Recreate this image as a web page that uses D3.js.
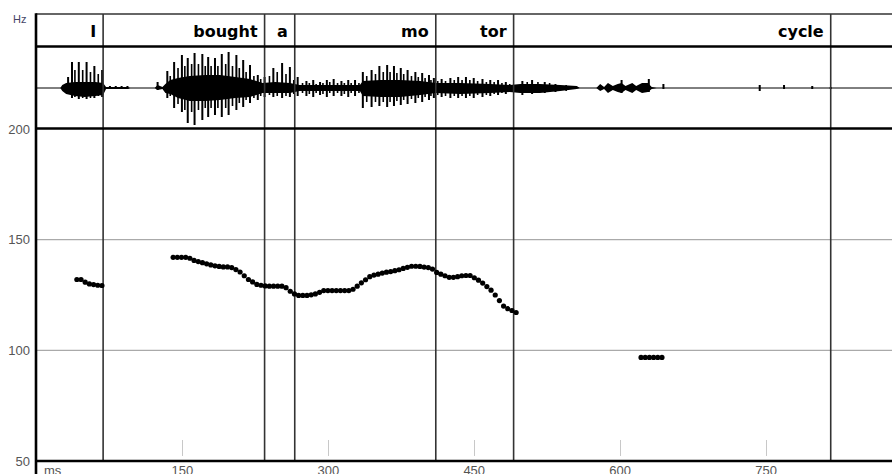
<!DOCTYPE html>
<html>
<head>
<meta charset="utf-8">
<script src="https://cdn.jsdelivr.net/npm/d3@7"></script>
<style>
  body { margin: 0; background: #fff; }
  svg { display: block; }
</style>
</head>
<body>
<div class="wrapper"></div>
<script>
// word tier: labels and interval end times (ms)
var words = ["I", "bought", "a", "mo", "tor", "cycle", ""];
var wordEnds = [69, 235, 266, 411, 491, 817, 880];

var hzTicks = [50, 100, 150, 200];
var hzGrid = [100, 150];
var msTicks = [150, 300, 450, 600, 750];

// pitch track, one dot per analysis frame
var pitchStepMs = 4.3;
var pitchStartMs = [42, 141, 622];
var pitchHz1 = [132, 132, 130.8, 130, 129.7, 129.4, 129.3];
var pitchHz2 = [142.0, 142.0, 142.0, 142.0, 141.6, 140.6, 140.1, 139.6, 139.1, 138.6,
  138.2, 137.9, 137.7, 137.7, 137.4, 136.5, 135.4, 133.7, 132.0, 130.9,
  129.8, 129.4, 129.1, 129.0, 129.0, 129.0, 129.0, 128.3, 126.7, 125.5,
  124.8, 124.8, 124.8, 125.1, 125.5, 126.2, 127.0, 127.0, 127.0, 127.0,
  127.0, 127.0, 127.0, 127.6, 129.0, 130.5, 131.9, 133.3, 134.0, 134.4,
  134.9, 135.3, 135.6, 136.0, 136.4, 137.0, 137.5, 138.0, 138.0, 137.9,
  137.6, 137.4, 136.7, 135.2, 134.4, 133.7, 133.0, 133.0, 133.3, 133.7,
  133.8, 133.8, 132.8, 131.7, 130.4, 128.8, 127.2, 125.0, 122.5, 120.0,
  118.8, 118.0, 117.1];
var pitchHz3 = [96.8, 96.8, 96.8, 96.8, 96.8, 96.8];

// waveform envelope (ms, amplitude above / below zero)
var envMs = [25, 27, 31, 40, 50, 61, 69, 72, 94, 97, 122, 125, 130, 133, 138, 146, 158, 174, 189, 205,
  220, 233, 246, 261, 271, 302, 333, 336, 354, 374, 395, 411, 436, 467, 487, 498, 518, 539, 556, 559,
  576, 580, 584, 588, 593, 598, 602, 606, 613, 617, 623, 629, 633, 638];
var envUp = [0, 3, 5, 6, 6, 6, 5, 1, 1, 0, 0, 3, 1, 4, 8, 10, 12, 13, 13, 11,
  9, 5, 6, 5, 3, 3, 3, 7, 8, 8, 7, 5, 5, 4, 3, 4, 4, 3, 2, 0,
  0, 4, 1, 5, 2, 4, 5, 2, 5, 2, 5, 5, 1, 0];
var envDown = [0, 3, 6, 8, 9, 8, 7, 1, 1, 0, 0, 2, 1, 5, 6, 10, 13, 13, 12, 10,
  9, 5, 5, 5, 3, 3, 3, 8, 9, 9, 7, 5, 6, 5, 4, 5, 5, 3, 1, 0,
  0, 3, 1, 5, 2, 4, 5, 2, 5, 2, 5, 4, 1, 0];

// glottal pulse peaks (ms, peak above / below zero)
var pulseMs = [33, 37, 44, 52, 60, 68, 76, 82, 88, 94, 125, 135, 142, 150, 156, 163, 171, 177, 184, 191,
  198, 206, 213, 220, 228, 235, 244, 253, 261, 269, 278, 285, 292, 299, 306, 314, 321, 328, 336, 345,
  353, 361, 368, 375, 382, 390, 397, 404, 409, 417, 426, 434, 442, 450, 459, 467, 475, 483, 500, 510,
  523, 534, 602, 630, 645, 744, 769, 798, 817];
var pulseUp = [11, 26, 26, 26, 22, 18, 2, 2, 2, 2, 6, 17, 26, 33, 30, 35, 34, 31, 30, 34,
  36, 33, 28, 23, 13, 11, 20, 25, 21, 11, 7, 8, 6, 8, 9, 7, 8, 8, 16, 18,
  22, 23, 22, 20, 18, 16, 15, 13, 10, 9, 10, 11, 11, 10, 9, 8, 8, 6, 7, 8,
  6, 4, 8, 9, 4, 3, 3, 2, 1];
var pulseDown = [6, 10, 11, 11, 10, 9, 1, 1, 1, 1, 2, 10, 20, 24, 35, 37, 32, 29, 27, 29,
  27, 22, 19, 15, 12, 9, 9, 10, 9, 8, 8, 9, 7, 9, 8, 8, 9, 8, 20, 19,
  18, 19, 18, 17, 16, 15, 14, 12, 10, 9, 10, 10, 10, 10, 9, 8, 7, 6, 7, 6,
  5, 4, 5, 4, 1, 3, 1, 1, 1];

// smaller peaks between the pulses
var rippleMs = [40, 48, 56, 64, 138, 146, 153, 160, 167, 174, 180, 187, 195, 202, 209, 216, 224, 231, 240, 248,
  257, 265, 274, 281, 288, 295, 302, 310, 317, 324, 332, 340, 349, 357, 364, 371, 378, 386, 393, 400,
  406, 413, 421, 430, 438, 446, 454, 463, 471, 479, 487, 505, 516, 528, 545];
var rippleUp = [18, 18, 16, 14, 12, 20, 22, 24, 24, 22, 22, 22, 24, 22, 20, 16, 12, 9, 12, 16,
  14, 8, 5, 5, 4, 5, 6, 5, 5, 5, 5, 12, 14, 16, 16, 15, 14, 12, 11, 10,
  8, 7, 7, 8, 8, 8, 7, 6, 6, 5, 4, 6, 6, 5, 3];
var rippleDown = [9, 10, 10, 8, 8, 16, 22, 24, 22, 20, 20, 20, 20, 18, 15, 12, 10, 8, 7, 8,
  8, 6, 5, 6, 5, 6, 5, 5, 6, 5, 5, 14, 14, 14, 14, 13, 12, 11, 10, 9,
  8, 7, 8, 8, 8, 8, 7, 7, 6, 5, 4, 5, 5, 4, 3];

var width = 892, height = 474;
var left = 36,
  tierTop = 14,
  tierBottom = 46.5,
  waveBottom = 128.5,
  axisY = 461;

var svg = d3.select(".wrapper").append("svg")
  .attr("width", width)
  .attr("height", height);

svg.append("rect").attr("width", width).attr("height", height).attr("fill", "#fff");

var x = d3.scaleLinear().domain([0, 880]).range([left, width]);
var y = d3.scaleLinear().domain([50, 200]).range([axisY, 129]);
var amp = d3.scaleLinear().domain([-40, 40]).range([128, 48]);

// grid lines
svg.append("g")
  .selectAll("line")
  .data(hzGrid)
  .enter().append("line")
    .attr("x1", left + 1).attr("x2", width)
    .attr("y1", function(d) { return y(d); })
    .attr("y2", function(d) { return y(d); })
    .attr("stroke", "#aaa")
    .attr("stroke-width", 1.2);

// faint time ticks above the axis
svg.append("g")
  .selectAll("line")
  .data(msTicks)
  .enter().append("line")
    .attr("x1", function(d) { return Math.round(x(d)) + 0.5; })
    .attr("x2", function(d) { return Math.round(x(d)) + 0.5; })
    .attr("y1", 440).attr("y2", 456)
    .attr("stroke", "#c8c8c8");

// waveform
svg.append("line")
  .attr("x1", left).attr("x2", width)
  .attr("y1", amp(0)).attr("y2", amp(0))
  .attr("stroke", "#000");

var env = envMs.map(function(t, i) { return {t: t, up: envUp[i], down: envDown[i]}; });
svg.append("path")
  .datum(env)
  .attr("fill", "#000")
  .attr("d", d3.area()
    .x(function(d) { return x(d.t); })
    .y0(function(d) { return amp(-d.down); })
    .y1(function(d) { return amp(d.up); }));

function spikes(times, ups, downs, w) {
  svg.append("g")
    .selectAll("rect")
    .data(times)
    .enter().append("rect")
      .attr("x", function(d) { return x(d) - w / 2; })
      .attr("width", w)
      .attr("y", function(d, i) { return amp(ups[i]); })
      .attr("height", function(d, i) { return amp(-downs[i]) - amp(ups[i]); })
      .attr("fill", "#000");
}
spikes(rippleMs, rippleUp, rippleDown, 1.6);
spikes(pulseMs, pulseUp, pulseDown, 2);

// interval boundaries
svg.append("g")
  .selectAll("line")
  .data(wordEnds.slice(0, -1))
  .enter().append("line")
    .attr("x1", function(d) { return x(d); })
    .attr("x2", function(d) { return x(d); })
    .attr("y1", tierTop).attr("y2", axisY)
    .attr("stroke", "#333")
    .attr("stroke-width", 1.6);

// frame lines
svg.append("line").attr("x1", left).attr("x2", width).attr("y1", tierTop).attr("y2", tierTop)
  .attr("stroke", "#333").attr("stroke-width", 1.6);
svg.append("line").attr("x1", left).attr("x2", width).attr("y1", tierBottom).attr("y2", tierBottom)
  .attr("stroke", "#000").attr("stroke-width", 2.4);
svg.append("line").attr("x1", left).attr("x2", width).attr("y1", waveBottom).attr("y2", waveBottom)
  .attr("stroke", "#000").attr("stroke-width", 2.6);
svg.append("line").attr("x1", left).attr("x2", width).attr("y1", axisY).attr("y2", axisY)
  .attr("stroke", "#000").attr("stroke-width", 2.6);
svg.append("line").attr("x1", left).attr("x2", left).attr("y1", tierTop - 0.8).attr("y2", height)
  .attr("stroke", "#000").attr("stroke-width", 2.6);

// word labels
svg.append("g")
  .attr("font-family", "'DejaVu Sans', sans-serif")
  .attr("font-weight", "bold")
  .attr("font-size", 16)
  .attr("text-anchor", "end")
  .selectAll("text")
  .data(words)
  .enter().append("text")
    .attr("x", function(d, i) { return x(wordEnds[i]) - 7; })
    .attr("y", 36.5)
    .text(function(d) { return d; });

// pitch dots
var pitch = [];
[pitchHz1, pitchHz2, pitchHz3].forEach(function(seg, s) {
  seg.forEach(function(hz, i) {
    pitch.push({t: pitchStartMs[s] + i * pitchStepMs, hz: hz});
  });
});
svg.append("g")
  .selectAll("circle")
  .data(pitch)
  .enter().append("circle")
    .attr("cx", function(d) { return x(d.t); })
    .attr("cy", function(d) { return y(d.hz); })
    .attr("r", 2.6)
    .attr("fill", "#000");

// axes
var yAxis = svg.append("g")
  .attr("transform", "translate(" + (left - 1) + ",0)")
  .call(d3.axisLeft(y).tickValues(hzTicks).tickSize(0).tickPadding(5));
yAxis.select(".domain").remove();
yAxis.selectAll("text")
  .attr("font-family", "'Liberation Sans', Arial, sans-serif")
  .attr("font-size", 13)
  .attr("fill", "#555");

var xAxis = svg.append("g")
  .attr("transform", "translate(0," + axisY + ")")
  .call(d3.axisBottom(x).tickValues(msTicks).tickSize(0).tickPadding(5));
xAxis.select(".domain").remove();
xAxis.selectAll("text")
  .attr("font-family", "'Liberation Sans', Arial, sans-serif")
  .attr("font-size", 13)
  .attr("fill", "#555");

svg.append("text")
  .attr("x", 13).attr("y", 23)
  .attr("font-family", "'Liberation Sans', Arial, sans-serif")
  .attr("font-size", 11)
  .attr("fill", "#446")
  .text("Hz");

svg.append("text")
  .attr("x", 44).attr("y", 475)
  .attr("font-family", "'Liberation Sans', Arial, sans-serif")
  .attr("font-size", 13)
  .attr("fill", "#555")
  .text("ms");
</script>
</body>
</html>
